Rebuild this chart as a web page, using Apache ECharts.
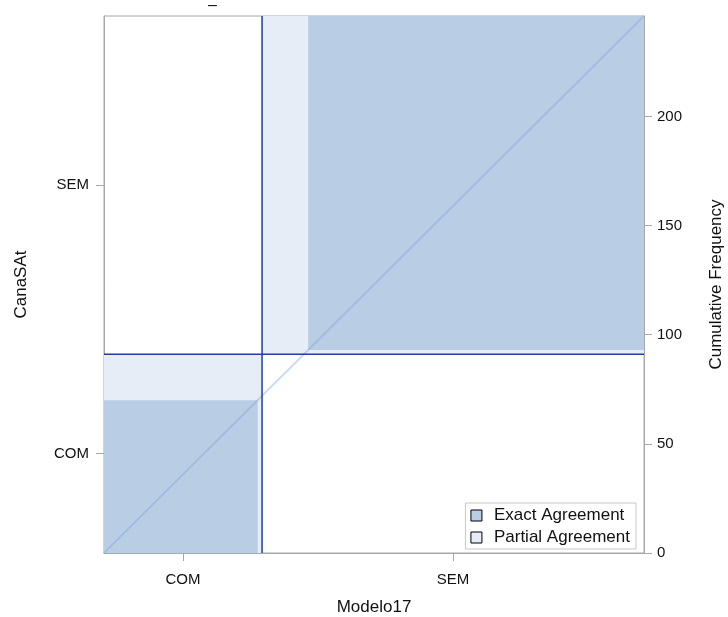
<!DOCTYPE html>
<html>
<head>
<meta charset="utf-8">
<script src="https://cdn.jsdelivr.net/npm/echarts@6/dist/echarts.min.js"></script>
<style>
  html, body { margin: 0; padding: 0; background: #fff; }
  #chart { width: 728px; height: 617px; }
</style>
</head>
<body>
<div id="chart"></div>
<script>
// Agreement plot: CanaSAt (rows) vs Modelo17 (columns)
const categories = ['COM', 'SEM'];
// Cross-tab counts: rows = CanaSAt, columns = Modelo17
const rowCOM = [70, 21];   // CanaSAt = COM : Modelo17 COM, SEM
const rowSEM = [2, 153];   // CanaSAt = SEM : Modelo17 COM, SEM
const freqStep = 50;       // cumulative frequency tick step

const table = [rowCOM, rowSEM];
const k = categories.length;
const N = table.flat().reduce((a, b) => a + b, 0);
const rowTot = table.map(r => r.reduce((a, b) => a + b, 0));
const colTot = categories.map((_, j) => table.reduce((s, r) => s + r[j], 0));
const cum = arr => arr.reduce((acc, v) => { acc.push(acc[acc.length - 1] + v); return acc; }, [0]);
const xCum = cum(colTot), yCum = cum(rowTot);

// rectangles in data units: [x0, y0, x1, y1]
const exactRects = [], partialRects = [];
for (let i = 0; i < k; i++) {
  let xOff = 0, yOff = 0;
  for (let j = 0; j < i; j++) { xOff += table[j][i]; yOff += table[i][j]; }
  const x0 = xCum[i] + xOff, y0 = yCum[i] + yOff;
  exactRects.push([x0, y0, x0 + table[i][i], y0 + table[i][i]]);
  // partial agreement: diagonal cell plus its neighbours
  let pxOff = 0, pyOff = 0;
  for (let j = 0; j < i - 1; j++) { pxOff += table[j][i]; pyOff += table[i][j]; }
  let w = 0, h = 0;
  for (let j = Math.max(0, i - 1); j <= Math.min(k - 1, i + 1); j++) { w += table[j][i]; h += table[i][j]; }
  partialRects.push([xCum[i] + pxOff, yCum[i] + pyOff, xCum[i] + pxOff + w, yCum[i] + pyOff + h]);
}
const xMid = categories.map((_, i) => (xCum[i] + xCum[i + 1]) / 2);
const yMid = categories.map((_, i) => (yCum[i] + yCum[i + 1]) / 2);

const EXACT = '#B9CDE5', PARTIAL = '#E6EDF7', REF = '#20409A';
const AXIS = '#A8A8A8';
const textColor = '#111';
const fontFamily = '"Liberation Sans", Arial, sans-serif';

function rectItem(params, api) {
  const p0 = api.coord([api.value(0), api.value(1)]);
  const p1 = api.coord([api.value(2), api.value(3)]);
  return {
    type: 'rect',
    shape: { x: p0[0], y: p1[1], width: p1[0] - p0[0], height: p0[1] - p1[1] },
    style: { fill: api.visual('color') }
  };
}

const chart = echarts.init(document.getElementById('chart'), null, { renderer: 'canvas' });
chart.setOption({
  animation: false,
  title: {
    text: '–', left: 203, top: -7,
    textStyle: { fontSize: 16, fontWeight: 'normal', color: textColor, fontFamily }
  },
  grid: {
    left: 104, right: 84, top: 16, bottom: 64,
    outerBoundsMode: 'none', containLabel: false,
    show: true, borderColor: AXIS, borderWidth: 1
  },
  legend: {
    orient: 'vertical', right: 92, bottom: 68,
    backgroundColor: '#fff', borderColor: '#C8C8C8', borderWidth: 1,
    padding: [4, 6, 3, 5], itemGap: 5, itemWidth: 11, itemHeight: 11,
    textStyle: { fontSize: 17, color: textColor, fontFamily, padding: [0, 0, 0, 7] },
    data: [
      { name: 'Exact Agreement', icon: 'rect', itemStyle: { color: EXACT, borderColor: '#000', borderWidth: 1 } },
      { name: 'Partial Agreement', icon: 'rect', itemStyle: { color: PARTIAL, borderColor: '#000', borderWidth: 1 } }
    ]
  },
  xAxis: {
    type: 'value', min: 0, max: N,
    name: 'Modelo17', nameLocation: 'middle', nameGap: 46,
    nameTextStyle: { fontSize: 17, color: textColor, fontFamily },
    splitLine: { show: false },
    axisLine: { show: true, onZero: false, lineStyle: { color: AXIS } },
    axisTick: { show: true, customValues: xMid, length: 8, lineStyle: { color: AXIS } },
    axisLabel: {
      customValues: xMid, margin: 19, fontSize: 15, color: textColor, fontFamily,
      formatter: v => categories[xMid.findIndex(m => Math.abs(m - v) < 1e-6)]
    }
  },
  yAxis: [
    {
      type: 'value', min: 0, max: N, position: 'left',
      name: 'CanaSAt', nameLocation: 'middle', nameGap: 74,
      nameTextStyle: { fontSize: 17, color: textColor, fontFamily },
      splitLine: { show: false },
      axisLine: { show: true, onZero: false, lineStyle: { color: AXIS } },
      axisTick: { show: true, customValues: yMid, length: 8, lineStyle: { color: AXIS } },
      axisLabel: {
        customValues: yMid, margin: 15, fontSize: 15, color: textColor, fontFamily,
        formatter: v => categories[yMid.findIndex(m => Math.abs(m - v) < 1e-6)]
      }
    },
    {
      type: 'value', min: 0, max: N, interval: freqStep, position: 'right',
      name: 'Cumulative Frequency', nameLocation: 'middle', nameGap: 64, nameRotate: 90,
      nameTextStyle: { fontSize: 17, color: textColor, fontFamily },
      splitLine: { show: false },
      axisLine: { show: true, onZero: false, lineStyle: { color: AXIS } },
      axisTick: { show: true, length: 8, lineStyle: { color: AXIS } },
      axisLabel: { showMaxLabel: false, margin: 13, fontSize: 15, color: textColor, fontFamily }
    }
  ],
  series: [
    {
      name: 'Partial Agreement', type: 'custom', renderItem: rectItem,
      itemStyle: { color: PARTIAL }, data: partialRects, z: 1, silent: true
    },
    {
      name: 'Exact Agreement', type: 'custom', renderItem: rectItem,
      itemStyle: { color: EXACT }, data: exactRects, z: 2, silent: true
    },
    {
      type: 'line', data: [[0, 0], [N, N]], symbol: 'none', z: 3, silent: true,
      lineStyle: { color: 'rgba(130,160,215,0.38)', width: 2 }
    },
    ...xCum.slice(1, -1).map(x => ({
      type: 'line', data: [[x, 0], [x, N]], symbol: 'none', z: 4, silent: true,
      lineStyle: { color: REF, width: 1.5 }
    })),
    ...yCum.slice(1, -1).map(y => ({
      type: 'line', data: [[0, y], [N, y]], symbol: 'none', z: 4, silent: true,
      lineStyle: { color: REF, width: 1.5 }
    }))
  ]
});
</script>
</body>
</html>
